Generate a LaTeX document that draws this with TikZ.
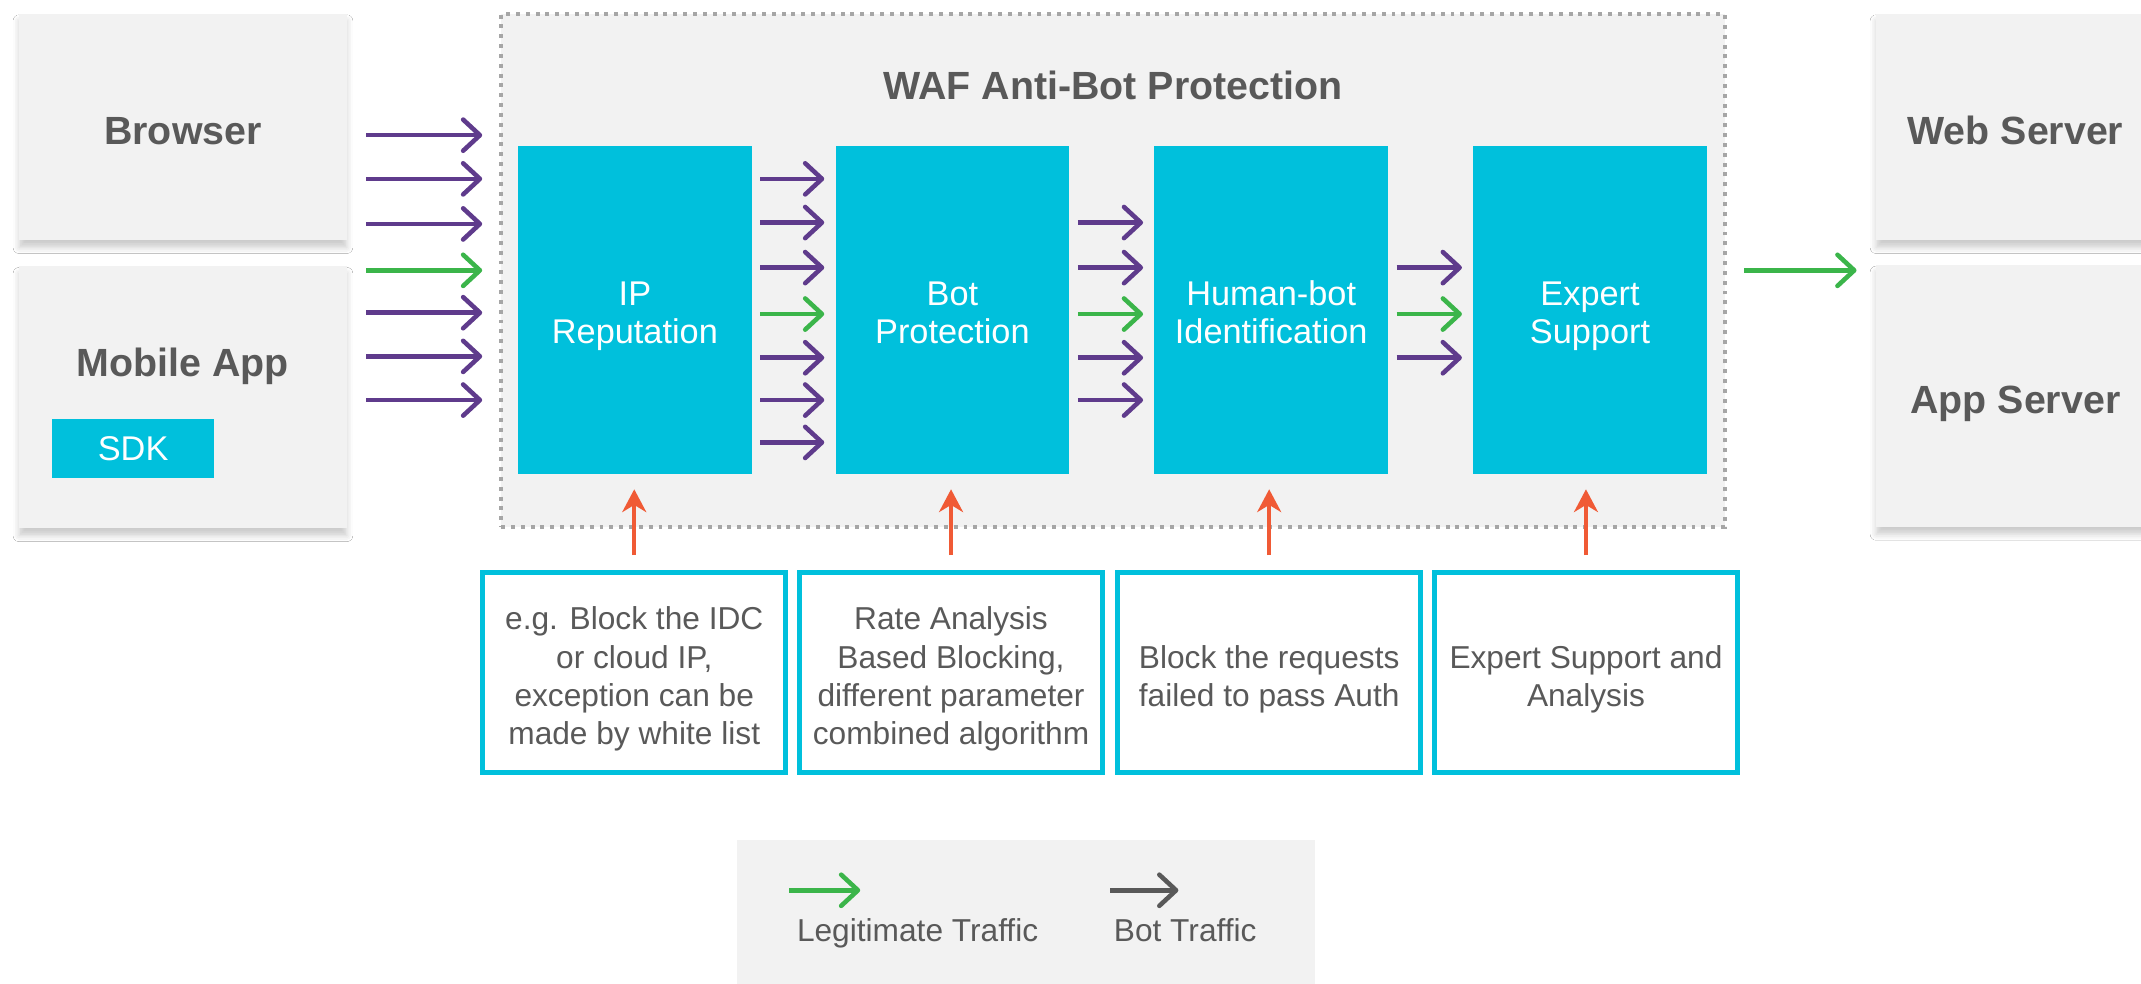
\documentclass[tikz,border=0pt]{standalone}
\usepackage{fontspec}
\setmainfont{Liberation Sans}
\usetikzlibrary{arrows.meta,shadows.blur}

\definecolor{wafcyan}{HTML}{00C0DC}
\definecolor{wafpurple}{HTML}{5F3B8C}
\definecolor{wafgreen}{HTML}{3BB54A}
\definecolor{wafred}{HTML}{F05A35}
\definecolor{waftext}{HTML}{595959}
\definecolor{wafpanel}{HTML}{F2F2F2}
\definecolor{wafdots}{HTML}{A6A6A6}

\begin{document}
\begin{tikzpicture}[
  hosttext/.style={text=waftext, font=\fontsize{16.4}{19}\selectfont\bfseries, execute at begin node=\strut},
  hostbox/.style={hosttext, fill=wafpanel, minimum width=4.8cm,
    execute at begin node={\rule[-5.7pt]{0pt}{25.8pt}},
    blur shadow={shadow xshift=0pt, shadow yshift=-3pt, shadow blur radius=2.5pt, shadow opacity=20}},
  stage/.style={fill=wafcyan, minimum width=3.42cm, minimum height=4.8cm},
  stagetext/.style={text=white, align=center, font=\fontsize{14.3}{15.9}\selectfont, yshift=-0.12cm,
    execute at begin node=\strut, execute at end node=\strut},
  note/.style={draw=wafcyan, line width=2.2pt, minimum width=4.44cm, minimum height=2.92cm},
  notetext/.style={text=waftext, align=center, font=\fontsize{13.2}{15.9}\selectfont, yshift=-0.13cm,
    execute at begin node=\strut, execute at end node=\strut},
  legtext/.style={text=waftext, font=\fontsize{13.2}{15.9}\selectfont, execute at begin node=\strut},
  flow/.style={line width=1.9pt, -{Straight Barb[length=7pt,width=13pt,round]}},
  bot/.style={flow, wafpurple},
  good/.style={flow, wafgreen},
  feed/.style={wafred, line width=1.5pt, -{Stealth[length=9.5pt,width=10pt,inset=3pt]}},
]
  \fill[white] (0,0) rectangle (31.36,14.4);
  \useasboundingbox (0,0) rectangle (31.36,14.4);

  % clients
  \node[hostbox, minimum height=3.32cm] (browser) at (2.68,12.54) {Browser};
  \node[hostbox, minimum height=3.84cm] (mobile) at (2.68,8.58) {};
  \node[hosttext] (mobiletxt) at (2.68,9.02) {Mobile App};
  \node[fill=wafcyan, minimum width=2.38cm, minimum height=0.86cm, text=white,
    font=\fontsize{14.3}{15.9}\selectfont] (sdk) at (1.95,7.83) {SDK};

  % servers
  \node[hostbox, minimum width=4.08cm, minimum height=3.32cm] (websrv) at (29.52,12.54) {Web Server};
  \node[hostbox, minimum width=4.08cm, minimum height=3.84cm] (appsrv) at (29.52,8.6) {App Server};

  % protection panel
  \node[fill=wafpanel, draw=wafdots, line width=1.65pt, dash pattern=on 1.65pt off 2.45pt,
    minimum width=17.92cm, minimum height=7.52cm] (waf) at (16.3,10.44) {};
  \node[hosttext] (waftitle) at (16.3,13.08) {WAF Anti-Bot Protection};

  \node[stage] (ip) at (9.3,9.86) {};
  \node[stage] (botp) at (13.95,9.86) {};
  \node[stage] (human) at (18.62,9.86) {};
  \node[stage] (expert) at (23.29,9.86) {};
  \node[stagetext] (iptxt) at (ip.center) {IP\\Reputation};
  \node[stagetext] (botptxt) at (botp.center) {Bot\\Protection};
  \node[stagetext] (humantxt) at (human.center) {Human-bot\\Identification};
  \node[stagetext] (experttxt) at (expert.center) {Expert\\Support};

  \node[note] (note1) at (9.29,4.55) {};
  \node[note] (note2) at (13.93,4.55) {};
  \node[note] (note3) at (18.59,4.55) {};
  \node[note] (note4) at (23.23,4.55) {};
  \node[notetext] (note1txt) at (note1.center) {e.g. Block the IDC\\or cloud IP,\\exception can be\\made by white list};
  \node[notetext] (note2txt) at (note2.center) {Rate Analysis\\Based Blocking,\\different parameter\\combined algorithm};
  \node[notetext] (note3txt) at (note3.center) {Block the requests\\failed to pass Auth};
  \node[notetext] (note4txt) at (note4.center) {Expert Support and\\Analysis};

  % traffic
  \foreach \y/\s in {12.42/bot, 11.78/bot, 11.12/bot, 10.44/good, 9.82/bot, 9.18/bot, 8.54/bot}
    \draw[\s, shorten <=0.28cm, shorten >=0.52cm] (browser.east |- 0,\y) -- (ip.west |- 0,\y);
  \foreach \y/\s in {11.78/bot, 11.14/bot, 10.48/bot, 9.8/good, 9.16/bot, 8.54/bot, 7.92/bot}
    \draw[\s, shorten <=0.12cm, shorten >=0.16cm] (ip.east |- 0,\y) -- (botp.west |- 0,\y);
  \foreach \y/\s in {11.14/bot, 10.48/bot, 9.8/good, 9.16/bot, 8.54/bot}
    \draw[\s, shorten <=0.12cm, shorten >=0.16cm] (botp.east |- 0,\y) -- (human.west |- 0,\y);
  \foreach \y/\s in {10.48/bot, 9.8/good, 9.16/bot}
    \draw[\s, shorten <=0.12cm, shorten >=0.16cm] (human.east |- 0,\y) -- (expert.west |- 0,\y);
  \draw[good, shorten <=0.54cm, shorten >=0.28cm] (expert.east |- 0,10.44) -- (websrv.west |- 0,10.44);

  \draw[feed, shorten <=0.22cm, shorten >=0.22cm] (note1.north) -- (note1.north |- ip.south);
  \draw[feed, shorten <=0.22cm, shorten >=0.22cm] (note2.north) -- (note2.north |- botp.south);
  \draw[feed, shorten <=0.22cm, shorten >=0.22cm] (note3.north) -- (note3.north |- human.south);
  \draw[feed, shorten <=0.22cm, shorten >=0.22cm] (note4.north) -- (note4.north |- expert.south);

  % legend
  \node[fill=wafpanel, minimum width=8.46cm, minimum height=2.5cm] (legend) at (15.03,0.85) {};
  \node[legtext] (legood) at (13.44,0.72) {Legitimate Traffic};
  \node[legtext] (legbot) at (17.36,0.72) {Bot Traffic};
  \coordinate (legood0) at (11.56,1.36);
  \coordinate (legood1) at (12.6,1.36);
  \coordinate (legbot0) at (16.26,1.36);
  \coordinate (legbot1) at (17.26,1.36);
  \draw[good] (legood0) -- (legood1);
  \draw[flow, waftext] (legbot0) -- (legbot1);
\end{tikzpicture}
\end{document}
